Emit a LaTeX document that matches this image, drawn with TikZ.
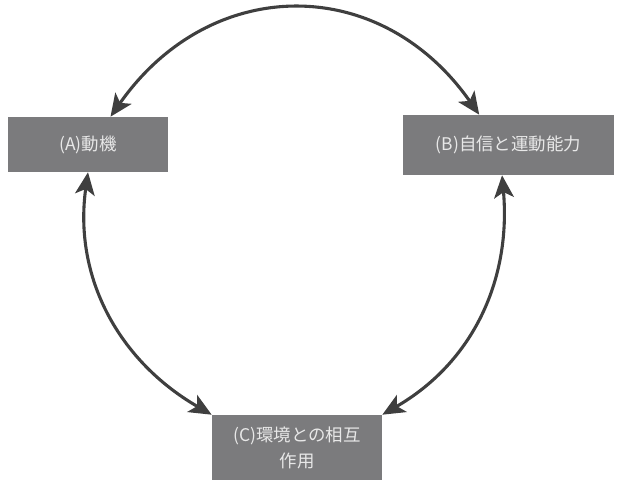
\documentclass[tikz,border=0pt]{standalone}
\usepackage{fontspec}
\setmainfont{Noto Sans CJK JP}
\usepackage{tikz}
\usetikzlibrary{arrows.meta}
\definecolor{boxgray}{HTML}{7B7B7D}
\definecolor{boxtext}{HTML}{E8E8E8}
\definecolor{arrowgray}{HTML}{3F3F3F}
\begin{document}
\begin{tikzpicture}[x=0.025cm,y=-0.025cm,
  box/.style={fill=boxgray,text=boxtext,inner sep=0pt,align=center,
    font=\fontsize{12.4}{18.4}\selectfont},
  link/.style={arrowgray,line width=2.2pt,
    {Stealth[length=16pt,width=14pt,inset=4pt]}-{Stealth[length=16pt,width=14pt,inset=4pt]}}]
% Three factors linked to one another
\useasboundingbox (0,0) rectangle (620,480);
\node[box,minimum width=4cm,minimum height=1.375cm] (motive) at (88,144.5) {(A)動機};
\node[box,minimum width=5.275cm,minimum height=1.5cm] (confidence) at (508.5,145) {(B)自信と運動能力};
\node[box,minimum width=4.25cm,minimum height=1.625cm] (interact) at (297,447.5) {(C)環境との相互\\作用};
\draw[link] (motive.51) to[out=55,in=125,looseness=1.2] (confidence.134);
\draw[link] (motive.south) to[out=-98,in=150] (interact.north west);
\draw[link] (confidence.-102) to[out=-85,in=30] (interact.north east);
\end{tikzpicture}
\end{document}
